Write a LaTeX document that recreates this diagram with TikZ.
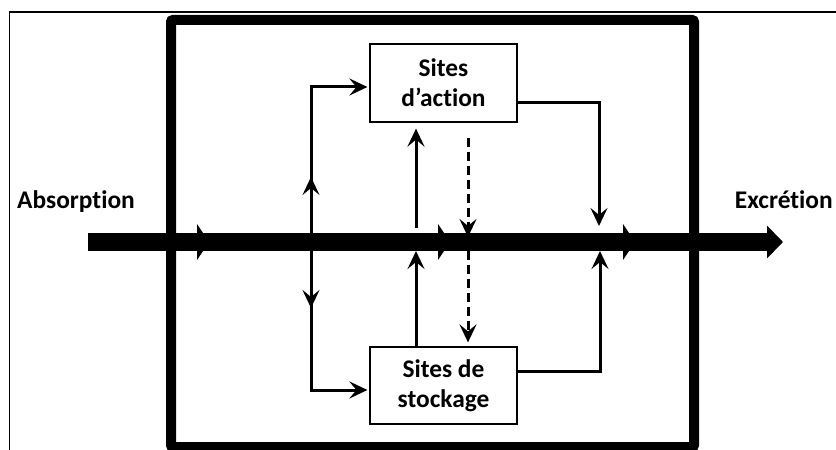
\documentclass[tikz,border=0pt]{standalone}
\usepackage{fontspec}
\setmainfont{Carlito}[Ligatures=NoCommon]
\usetikzlibrary{arrows.meta,decorations.markings}

\begin{document}
\begin{tikzpicture}
  [x=1bp,y=-1bp,>={Stealth[length=18bp,width=17bp,inset=7bp]},
   every node/.style={font=\fontsize{25.5}{30}\selectfont\bfseries,inner sep=0pt},
   site/.style={draw,line width=1.2bp,minimum width=147bp,minimum height=78bp,align=center},
   flow/.style={line width=3bp,->},
   midtip/.style={postaction={decorate},decoration={markings,mark=at position #1 with {\arrow{>}}}}]
  \useasboundingbox (0,0) rectangle (836,450);
  \clip (0,0) rectangle (836,450);

  % frames
  \draw [line width=1.5bp] (9.5,460) -- (9.5,12) -- (850,12);
  \draw [line width=10bp,rounded corners=2bp] (171,20) rectangle (694,447);

  \node [anchor=base west] (abs) at (17,209) {Absorption};
  \node [anchor=base east] (exc) at (833,209) {Excrétion};
  \node [site] (action) at (443.5,83) {Sites\\d’action};
  \node [site,minimum height=77bp] (stock) at (443.5,385.5) {Sites de\\stockage};

  % main flow
  \coordinate (in) at (88,242);
  \coordinate (out) at (783,242);
  \draw [line width=18bp,-{Triangle[length=16bp,width=32bp]}] (in) -- (out);
  \foreach \x in {197,438,623}
    \fill (\x,224) -- (\x+12,242) -- (\x,260) -- cycle;

  % distribution
  \coordinate (split) at (311,242);
  \draw [flow,midtip=65bp,shorten >=2bp] (split) |- ([yshift=-4bp]action.west);
  \draw [flow,midtip=66bp,shorten >=2bp] (split) |- ([yshift=-4.5bp]stock.west);

  \coordinate (up1) at (416,228);
  \coordinate (up2) at (416,251);
  \draw [flow,shorten >=6bp] (up1) -- (up1 |- action.south);
  \draw [flow] (up2 |- stock.north) -- (up2);

  \coordinate (dn1) at (468,237);
  \coordinate (dn2) at (468,251);
  \draw [flow,dash pattern=on 9bp off 5bp,shorten <=15bp] (dn1 |- action.south) -- (dn1);
  \draw [flow,dash pattern=on 9bp off 5bp,shorten >=4bp] (dn2) -- (dn2 |- stock.north);

  \coordinate (j1) at (599,226);
  \coordinate (j2) at (600,251);
  \draw [flow] ([yshift=-20bp]action.east) -| (j1);
  \draw [flow] ([yshift=13.5bp]stock.east) -| (j2);

\end{tikzpicture}
\end{document}
